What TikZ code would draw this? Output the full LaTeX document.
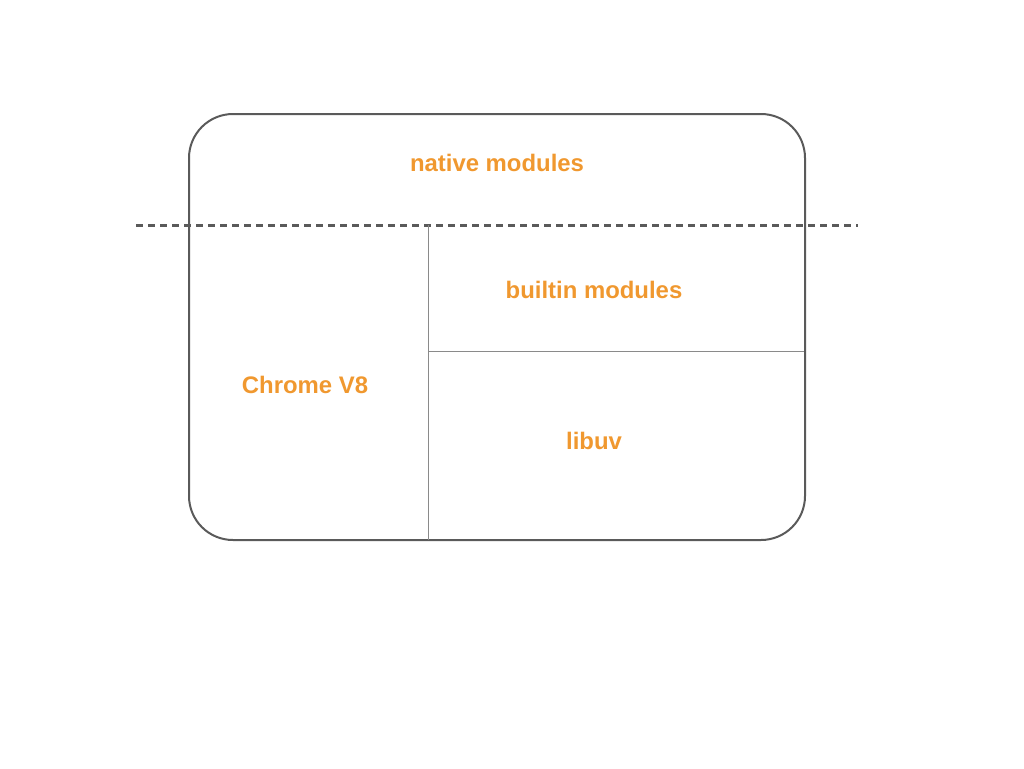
\documentclass[tikz,border=0pt]{standalone}
\usepackage{fontspec}
\setmainfont{Liberation Sans}
\begin{document}
\begin{tikzpicture}[x=1pt,y=-1pt,
  lbl/.style={text=labelorange,font=\fontsize{23.9}{27}\selectfont\bfseries,inner sep=0pt},
  frame/.style={draw=framegray,line width=2pt,rounded corners=44pt},
  divider/.style={draw=divgray,line width=1pt},
  sep/.style={draw=framegray,line width=3pt,dash pattern=on 7pt off 5pt}]
\definecolor{labelorange}{HTML}{F0982F}
\definecolor{framegray}{HTML}{5A5A5A}
\definecolor{divgray}{HTML}{8A8A8A}
\useasboundingbox (0,0) rectangle (1024,768);
\draw[frame] (189,114) rectangle (805,540);
\draw[sep] (136,225) -- (858,225);
\draw[divider] (428,225) -- (428,540);
\draw[divider] (428,351) -- (804,351);
\node[lbl] (native) at (497,163) {native modules};
\node[lbl] (builtin) at (594,290) {builtin modules};
\node[lbl] (v8) at (305,385) {Chrome V8};
\node[lbl] (libuv) at (594,441) {libuv};
\end{tikzpicture}
\end{document}
